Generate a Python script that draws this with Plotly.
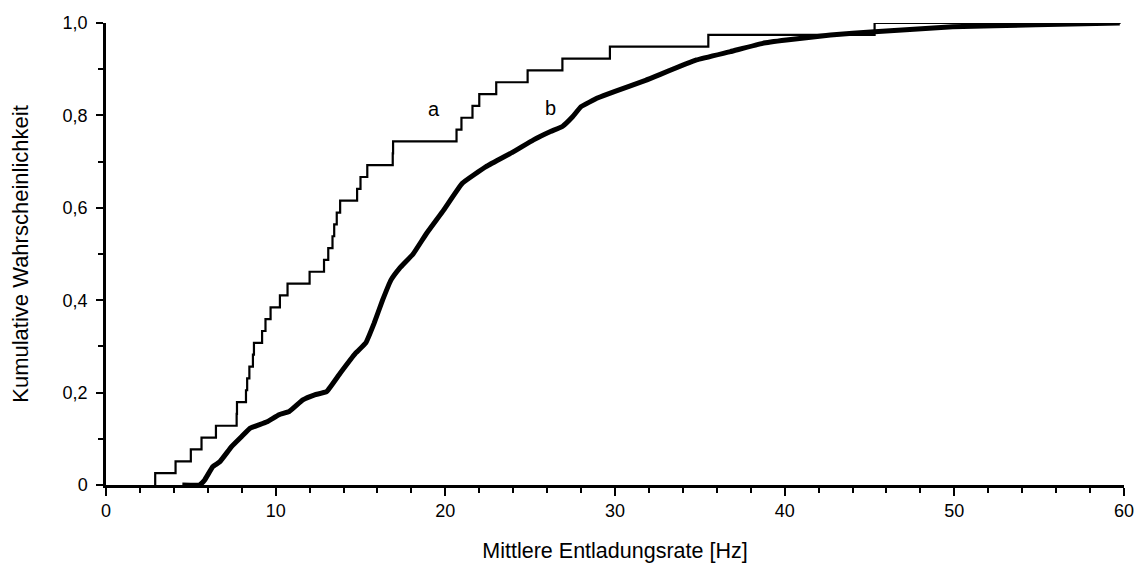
import plotly.graph_objects as go

# Curve a: individual firing rates (empirical CDF, n = 39)
rates_a = [2.9, 4.1, 5.0, 5.63, 6.48, 7.7, 7.72, 8.25, 8.32, 8.45, 8.66, 8.72,
           9.2, 9.4, 9.7, 10.25, 10.7, 12.0, 12.85, 13.1, 13.35, 13.45, 13.6,
           13.8, 14.8, 15.0, 15.4, 16.9, 16.92, 20.66, 20.95, 21.6, 22.0, 23.0,
           24.85, 26.9, 29.7, 35.5, 45.3]
a_end = 59.8

# Curve b: cumulative probability
b_x = [4.5, 5.5, 5.8, 6.3, 6.7, 7.4, 8.0, 8.5, 9.0, 9.5, 10.2, 10.8, 11.6, 12.3,
       13.0, 13.8, 14.7, 15.3, 15.8, 16.3, 16.8, 17.3, 18.1, 18.9, 19.9, 21.0,
       22.4, 24.0, 25.2, 26.2, 26.9, 27.5, 28.0, 29.0, 30.0, 31.8, 34.8, 36.8,
       38.7, 40.1, 42.7, 45.3, 49.9, 54.8, 59.75]
b_y = [0.0, 0.0, 0.01, 0.04, 0.05, 0.083, 0.105, 0.123, 0.13, 0.137, 0.152,
       0.159, 0.184, 0.195, 0.202, 0.242, 0.285, 0.307, 0.35, 0.40, 0.444,
       0.469, 0.50, 0.545, 0.595, 0.653, 0.689, 0.721, 0.747, 0.765, 0.776,
       0.797, 0.819, 0.838, 0.852, 0.876, 0.92, 0.938, 0.956, 0.963, 0.974,
       0.981, 0.992, 0.996, 1.0]

x_ticks = [0, 10, 20, 30, 40, 50, 60]
y_ticks = [0, 0.2, 0.4, 0.6, 0.8, 1.0]
y_tick_text = ["0", "0,2", "0,4", "0,6", "0,8", "1,0"]

n = len(rates_a)
xa = [rates_a[0]] + rates_a + [a_end]
ya = [0.0] + [(k + 1) / n for k in range(n)] + [1.0]

fig = go.Figure()
fig.add_trace(go.Scatter(x=b_x, y=b_y, mode="lines",
                         line=dict(color="black", width=5, shape="spline", smoothing=0.3),
                         cliponaxis=False, showlegend=False))
fig.add_trace(go.Scatter(x=xa, y=ya, mode="lines",
                         line=dict(color="black", width=2.2, shape="hv"),
                         cliponaxis=False, showlegend=False))

fig.add_annotation(x=19.33, y=0.814, text="a", showarrow=False,
                   font=dict(size=20, color="black"))
fig.add_annotation(x=26.2, y=0.816, text="b", showarrow=False,
                   font=dict(size=20, color="black"))

fig.update_layout(
    width=1142, height=563,
    margin=dict(l=106, r=18, t=23, b=78),
    paper_bgcolor="white", plot_bgcolor="white",
    font=dict(family="Liberation Sans, Arial, sans-serif", size=18, color="black"),
)
fig.update_xaxes(
    range=[0, 60], tickvals=x_ticks, showline=True, linecolor="black", linewidth=2.5,
    ticks="outside", ticklen=8, tickwidth=2, tickcolor="black", showgrid=False,
    zeroline=False, automargin=False,
    minor=dict(dtick=2, ticks="outside", ticklen=5, tickwidth=2, tickcolor="black", showgrid=False),
    title=dict(text="Mittlere Entladungsrate [Hz]", font=dict(size=21.5), standoff=24),
)
fig.update_yaxes(
    range=[0, 1], tickvals=y_ticks, ticktext=y_tick_text, showline=True,
    linecolor="black", linewidth=2.5, ticks="outside", ticklen=7, tickwidth=2,
    tickcolor="black", showgrid=False, zeroline=False, ticklabelstandoff=5,
    automargin=False,
    minor=dict(dtick=0.1, ticks="outside", ticklen=5, tickwidth=2, tickcolor="black", showgrid=False),
    title=dict(text="Kumulative Wahrscheinlichkeit", font=dict(size=22), standoff=28),
)

fig.write_html("out.html")
